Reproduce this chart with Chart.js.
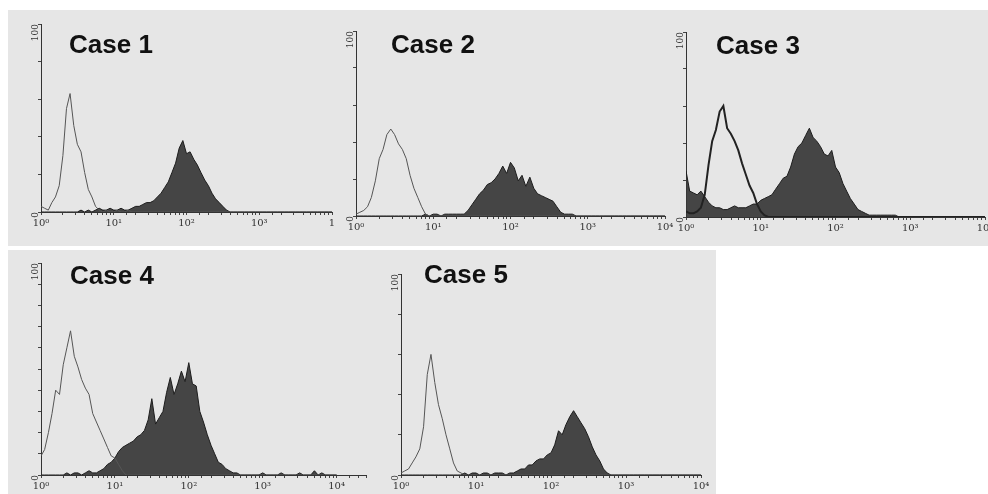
<!DOCTYPE html>
<html>
<head>
<meta charset="utf-8">
<script src="https://cdn.jsdelivr.net/npm/chart.js@4"></script>
<style>
  body { margin: 0; width: 988px; height: 494px; background: #fff; position: relative; overflow: hidden; }
  .band { position: absolute; background: #e6e6e6; }
  .title { position: absolute; font: bold 26px "Liberation Sans", Arial, sans-serif; line-height: 26px; color: #111; white-space: nowrap; }
  canvas { position: absolute; }
</style>
</head>
<body>
<div class="band" style="left:8px;top:10px;width:980px;height:236px"></div>
<div class="band" style="left:8px;top:250px;width:708px;height:244px"></div>

<script>
// fluorescence channels, 20 per decade (log scale 10^0 .. 10^4)
const channels = [
  1, 1.12, 1.26, 1.41, 1.58, 1.78, 2, 2.24, 2.51, 2.82, 3.16, 3.55, 3.98, 4.47, 5.01, 5.62, 6.31, 7.08, 7.94, 8.91,
  10, 11.2, 12.6, 14.1, 15.8, 17.8, 20, 22.4, 25.1, 28.2, 31.6, 35.5, 39.8, 44.7, 50.1, 56.2, 63.1, 70.8, 79.4, 89.1,
  100, 112, 126, 141, 158, 178, 200, 224, 251, 282, 316, 355, 398, 447, 501, 562, 631, 708, 794, 891,
  1000, 1122, 1259, 1413, 1585, 1778, 1995, 2239, 2512, 2818, 3162, 3548, 3981, 4467, 5012, 5623, 6310, 7079, 7943, 8913,
  10000
];

const decadeLabels = ['10\u2070', '10\u00b9', '10\u00b2', '10\u00b3', '10\u2074'];
const caseNames = ['Case 1', 'Case 2', 'Case 3', 'Case 4', 'Case 5'];

// open histograms (isotype control)
const case1Control = [
  3, 2, 1, 5, 8, 14, 30, 55, 63, 46,
  36, 32, 21, 12, 8, 3, 1, 0, 1, 0,
  0, 1, 0, 0, 1, 0, 0, 0, 0, 0,
  0, 0, 0, 0, 0, 0, 0, 0, 0, 0,
  0, 0, 0, 0, 0, 0, 0, 0, 0, 0,
  0, 0, 0, 0, 0, 0, 0, 0, 0, 0,
  0, 0, 0, 0, 0, 0, 0, 0, 0, 0,
  0, 0, 0, 0, 0, 0, 0, 0, 0, 0,
  0
];
const case2Control = [
  1, 2, 3, 5, 10, 19, 31, 36, 44, 47,
  44, 39, 36, 31, 22, 15, 10, 5, 1, 0,
  0, 0, 0, 0, 0, 0, 0, 0, 0, 0,
  0, 0, 0, 0, 0, 0, 0, 0, 0, 0,
  0, 0, 0, 0, 0, 0, 0, 0, 0, 0,
  0, 0, 0, 0, 0, 0, 0, 0, 0, 0,
  0, 0, 0, 0, 0, 0, 0, 0, 0, 0,
  0, 0, 0, 0, 0, 0, 0, 0, 0, 0,
  0
];
const case3Control = [
  3, 2, 2, 3, 5, 12, 28, 41, 47, 57,
  60, 48, 45, 41, 36, 29, 23, 17, 13, 7,
  3, 1, 0, 0, 0, 0, 0, 0, 0, 0,
  0, 0, 0, 0, 0, 0, 0, 0, 0, 0,
  0, 0, 0, 0, 0, 0, 0, 0, 0, 0,
  0, 0, 0, 0, 0, 0, 0, 0, 0, 0,
  0, 0, 0, 0, 0, 0, 0, 0, 0, 0,
  0, 0, 0, 0, 0, 0, 0, 0, 0, 0,
  0
];
const case4Control = [
  9, 12, 20, 29, 40, 38, 52, 60, 68, 56,
  51, 45, 41, 38, 29, 25, 21, 17, 13, 9,
  8, 5, 2, 0, 0, 0, 0, 0, 0, 0,
  0, 0, 0, 0, 0, 0, 0, 0, 0, 0,
  0, 0, 0, 0, 0, 0, 0, 0, 0, 0,
  0, 0, 0, 0, 0, 0, 0, 0, 0, 0,
  0, 0, 0, 0, 0, 0, 0, 0, 0, 0,
  0, 0, 0, 0, 0, 0, 0, 0, 0, 0,
  0
];
const case5Control = [
  1, 2, 3, 6, 9, 13, 24, 50, 60, 46,
  35, 28, 20, 13, 6, 2, 1, 0, 0, 0,
  0, 0, 0, 0, 0, 0, 0, 0, 0, 0,
  0, 0, 0, 0, 0, 0, 0, 0, 0, 0,
  0, 0, 0, 0, 0, 0, 0, 0, 0, 0,
  0, 0, 0, 0, 0, 0, 0, 0, 0, 0,
  0, 0, 0, 0, 0, 0, 0, 0, 0, 0,
  0, 0, 0, 0, 0, 0, 0, 0, 0, 0,
  0
];

// filled histograms (stained)
const case1Stained = [
  0, 0, 0, 0, 0, 0, 0, 0, 0, 0,
  0, 1, 0, 1, 0, 1, 2, 1, 1, 2,
  1, 1, 2, 1, 1, 2, 3, 3, 4, 5,
  5, 6, 8, 10, 13, 16, 21, 26, 34, 38,
  31, 32, 28, 25, 21, 17, 14, 10, 7, 5,
  3, 1, 0, 0, 0, 0, 0, 0, 0, 0,
  0, 0, 0, 0, 0, 0, 0, 0, 0, 0,
  0, 0, 0, 0, 0, 0, 0, 0, 0, 0,
  0
];
const case2Stained = [
  0, 0, 0, 0, 0, 0, 0, 0, 0, 0,
  0, 0, 0, 0, 0, 0, 0, 0, 1, 0,
  1, 1, 0, 1, 1, 1, 1, 1, 1, 3,
  6, 9, 12, 14, 17, 18, 20, 23, 27, 23,
  29, 26, 19, 22, 16, 21, 15, 12, 11, 10,
  9, 8, 5, 2, 1, 1, 1, 0, 0, 0,
  0, 0, 0, 0, 0, 0, 0, 0, 0, 0,
  0, 0, 0, 0, 0, 0, 0, 0, 0, 0,
  0
];
const case3Stained = [
  25, 14, 13, 12, 14, 11, 8, 6, 5, 5,
  4, 4, 5, 6, 5, 5, 5, 6, 7, 7,
  9, 10, 11, 12, 15, 18, 21, 22, 27, 34,
  38, 40, 44, 48, 43, 41, 38, 34, 33, 36,
  27, 24, 18, 14, 10, 7, 4, 3, 2, 1,
  1, 1, 1, 1, 1, 1, 1, 0, 0, 0,
  0, 0, 0, 0, 0, 0, 0, 0, 0, 0,
  0, 0, 0, 0, 0, 0, 0, 0, 0, 0,
  0
];
const case4Stained = [
  0, 0, 0, 0, 0, 0, 0, 1, 0, 1,
  1, 0, 1, 2, 1, 1, 2, 3, 5, 6,
  8, 11, 13, 14, 15, 16, 18, 19, 21, 26,
  36, 24, 27, 30, 39, 46, 38, 43, 49, 44,
  53, 43, 42, 30, 25, 19, 14, 10, 6, 5,
  3, 2, 1, 1, 0, 0, 0, 0, 0, 0,
  1, 0, 0, 0, 0, 1, 0, 0, 0, 0,
  1, 0, 0, 0, 2, 0, 1, 0, 0, 0,
  0
];
const case5Stained = [
  0, 0, 0, 0, 0, 0, 0, 0, 0, 0,
  0, 0, 0, 0, 0, 0, 0, 1, 0, 1,
  1, 0, 1, 1, 0, 1, 1, 1, 0, 1,
  1, 2, 3, 3, 5, 5, 7, 8, 8, 10,
  11, 15, 22, 20, 25, 29, 32, 29, 26, 23,
  19, 14, 10, 7, 3, 1, 0, 0, 0, 0,
  0, 0, 0, 0, 0, 0, 0, 0, 0, 0,
  0, 0, 0, 0, 0, 0, 0, 0, 0, 0,
  0
];

const controls = [case1Control, case2Control, case3Control, case4Control, case5Control];
const stained = [case1Stained, case2Stained, case3Stained, case4Stained, case5Stained];

// plot boxes on the page: left, top, right, bottom, x max
const panels = [
  { l: 41,  t: 24,  r: 332, b: 212, xMax: 10000, title: [69, 31] },
  { l: 356, t: 31,  r: 665, b: 216, xMax: 10000, title: [391, 31] },
  { l: 686, t: 32,  r: 985, b: 217, xMax: 10000, title: [716, 32] },
  { l: 41,  t: 263, r: 366, b: 475, xMax: 25000, title: [70, 262] },
  { l: 401, t: 274, r: 701, b: 475, xMax: 10000, title: [424, 261] }
];

const padL = 28, padR = 12, padT = 12, padB = 22;
const tickFont = { family: 'DejaVu Serif', size: 10 };

panels.forEach((p, i) => {
  const canvas = document.createElement('canvas');
  canvas.width = p.r - p.l + padL + padR;
  canvas.height = p.b - p.t + padT + padB;
  canvas.style.left = (p.l - padL) + 'px';
  canvas.style.top = (p.t - padT) + 'px';
  document.body.appendChild(canvas);

  const title = document.createElement('div');
  title.className = 'title';
  title.textContent = caseNames[i];
  title.style.left = p.title[0] + 'px';
  title.style.top = p.title[1] + 'px';
  document.body.appendChild(title);

  const thick = i === 2;

  new Chart(canvas, {
    type: 'line',
    data: {
      labels: channels,
      datasets: [
        {
          data: controls[i],
          borderColor: thick ? '#222' : '#555',
          borderWidth: thick ? 2 : 1,
          fill: false,
          pointRadius: 0,
          tension: 0
        },
        {
          data: stained[i],
          borderColor: '#1c1c1c',
          borderWidth: 1,
          backgroundColor: 'rgba(55, 55, 55, 0.92)',
          fill: 'origin',
          pointRadius: 0,
          tension: 0
        }
      ]
    },
    options: {
      responsive: false,
      animation: false,
      layout: { padding: { top: padT, right: padR, left: 0, bottom: 0 } },
      plugins: { legend: { display: false }, tooltip: { enabled: false } },
      scales: {
        x: {
          type: 'logarithmic',
          min: 1,
          max: p.xMax,
          afterFit: (s) => { s.height = padB; },
          border: { display: true, color: '#333', width: 1 },
          grid: { drawOnChartArea: false, drawTicks: true, tickLength: 3, color: '#444' },
          ticks: {
            autoSkip: false,
            maxRotation: 0,
            padding: 2,
            color: '#333',
            font: tickFont,
            callback: (v) => {
              const d = Math.log10(v);
              if (Math.abs(d - Math.round(d)) > 1e-6 || d > 4) return '';
              if (i === 0 && d === 4) return '1';
              return decadeLabels[Math.round(d)];
            }
          }
        },
        y: {
          min: 0,
          max: 100,
          afterFit: (s) => { s.width = padL; },
          border: { display: true, color: '#333', width: 1 },
          grid: { drawOnChartArea: false, drawTicks: true, tickLength: 3, color: '#444' },
          ticks: {
            stepSize: 10,
            minRotation: 90,
            maxRotation: 90,
            padding: 2,
            color: '#333',
            font: { family: 'DejaVu Serif', size: 9 },
            callback: (v) => (v === 0 || v === 100) ? String(v) : ''
          }
        }
      }
    }
  });
});
</script>
</body>
</html>
